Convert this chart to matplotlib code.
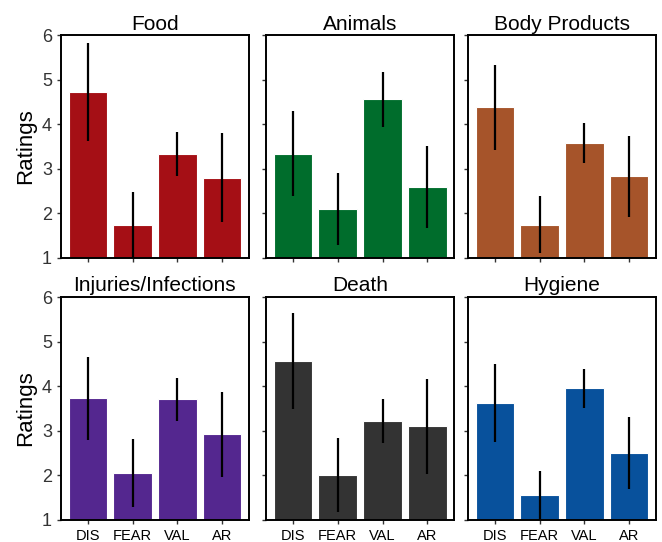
import numpy as np
import matplotlib.pyplot as plt

plt.rcParams['font.family'] = ['Liberation Sans', 'DejaVu Sans']

measures = ["DIS", "FEAR", "VAL", "AR"]
titles = ["Food", "Animals", "Body Products", "Injuries/Infections", "Death", "Hygiene"]
colors = ["#A50F15", "#006D2C", "#A6542A", "#54278F", "#333333", "#08519C"]

food = [4.73, 1.75, 3.34, 2.80]
food_err = [1.10, 0.74, 0.49, 1.00]
animals = [3.34, 2.10, 4.56, 2.60]
animals_err = [0.95, 0.81, 0.62, 0.92]
body = [4.38, 1.75, 3.58, 2.83]
body_err = [0.95, 0.64, 0.44, 0.91]
injuries = [3.73, 2.05, 3.70, 2.92]
injuries_err = [0.93, 0.76, 0.49, 0.95]
death = [4.56, 2.01, 3.21, 3.10]
death_err = [1.08, 0.83, 0.49, 1.07]
hygiene = [3.62, 1.55, 3.95, 2.49]
hygiene_err = [0.87, 0.54, 0.43, 0.81]

means = [food, animals, body, injuries, death, hygiene]
errs = [food_err, animals_err, body_err, injuries_err, death_err, hygiene_err]

fig = plt.figure(figsize=(6.62, 5.42), dpi=100)
lefts = [0.092, 0.402, 0.707]
bottoms = [0.524, 0.041]
w, h = 0.284, 0.411

x = np.arange(len(measures))
for i in range(6):
    r, c = divmod(i, 3)
    ax = fig.add_axes([lefts[c], bottoms[r], w, h])
    ax.bar(x, means[i], width=0.86, bottom=0, color=colors[i],
           edgecolor="white", linewidth=0.8)
    ax.errorbar(x, means[i], yerr=errs[i], fmt="none", ecolor="black",
                elinewidth=1.6, capsize=0)
    ax.set_xlim(-0.6, 3.6)
    ax.set_ylim(1, 6)
    ax.set_yticks([1, 2, 3, 4, 5, 6])
    ax.set_xticks(x)
    ax.set_title(titles[i], fontsize=15, pad=4)
    for s in ax.spines.values():
        s.set_linewidth(1.4)
        s.set_color("black")
    ax.tick_params(direction="out", length=3, width=1, colors="#333333",
                   labelsize=13)
    ax.tick_params(axis="x", labelsize=10.5, labelcolor="black")
    if r == 0:
        ax.set_xticklabels([])
    else:
        ax.set_xticklabels(measures)
    if c == 0:
        ax.set_ylabel("Ratings", fontsize=16, labelpad=4)
    else:
        ax.set_yticklabels([])

fig.savefig("out.png", dpi=100)
